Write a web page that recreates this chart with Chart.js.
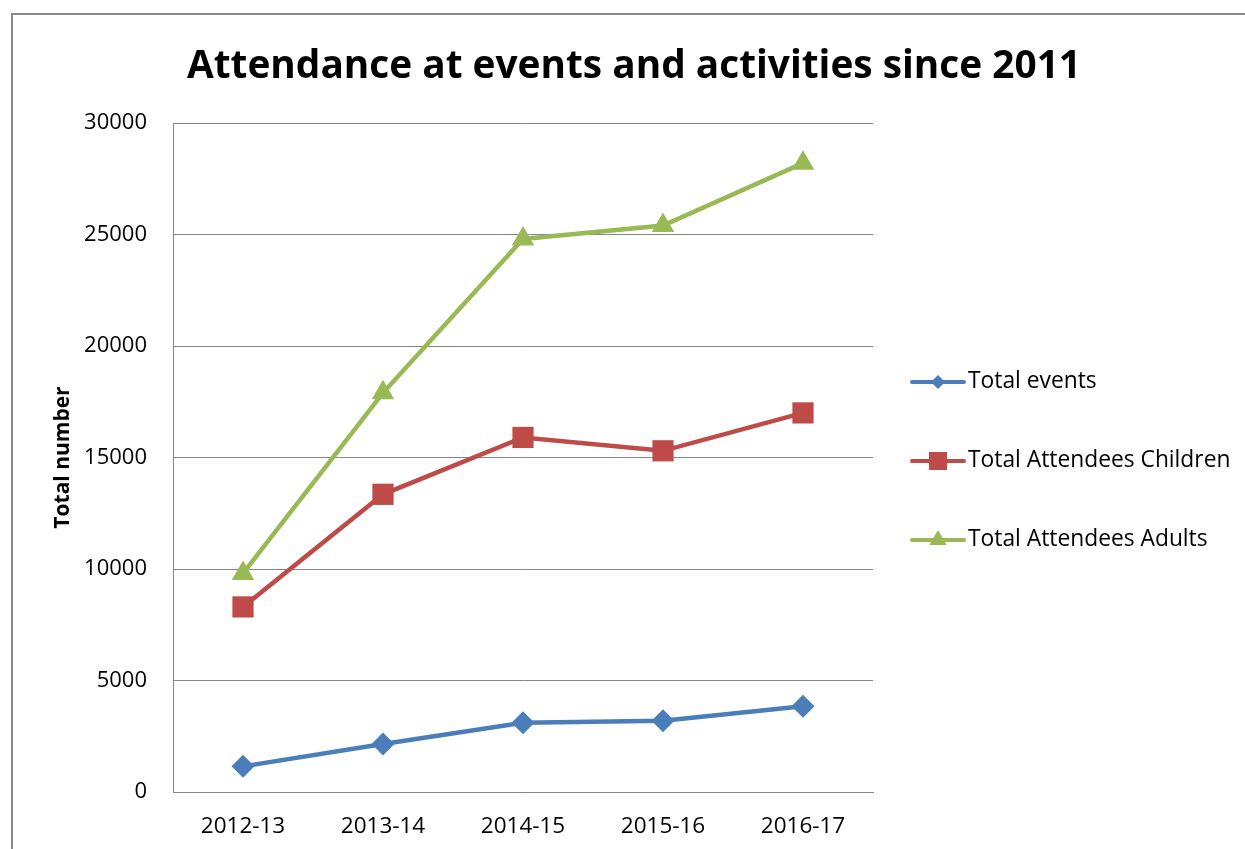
<!DOCTYPE html>
<html>
<head>
<meta charset="utf-8">
<title>Attendance at events and activities since 2011</title>
<script src="https://cdn.jsdelivr.net/npm/chart.js@4/dist/chart.umd.min.js"></script>
<style>
  html, body { margin: 0; padding: 0; background: #fff; }
  #wrap { width: 1245px; height: 849px; }
</style>
</head>
<body>
<div id="wrap"><canvas id="attendance-chart" width="1245" height="849"></canvas></div>
<script>
// ------------------------------------------------------
// DATA
// ------------------------------------------------------
const years = ["2012-13", "2013-14", "2014-15", "2015-16", "2016-17"];
const totalEvents = [1150, 2150, 3100, 3200, 3850];
const attendeesChildren = [8300, 13350, 15900, 15300, 17000];
const attendeesAdults = [9800, 17900, 24800, 25400, 28200];
const yTicks = [0, 5000, 10000, 15000, 20000, 25000, 30000];

const seriesNames = ["Total events", "Total Attendees Children", "Total Attendees Adults"];
const seriesColors = ["#4A7EBB", "#BE4B48", "#98B954"];

const FONT = "'Open Sans', 'Liberation Sans', sans-serif";

// ------------------------------------------------------
// PLUGINS
// ------------------------------------------------------
// outer frame + title
const framePlugin = {
  id: "frame",
  beforeDraw(chart) {
    const ctx = chart.ctx;
    ctx.save();
    ctx.fillStyle = "#fff";
    ctx.fillRect(0, 0, chart.width, chart.height);
    ctx.strokeStyle = "#898989";
    ctx.lineWidth = 2;
    ctx.beginPath();
    ctx.moveTo(12, chart.height);
    ctx.lineTo(12, 14);
    ctx.lineTo(chart.width, 14);
    ctx.stroke();

    ctx.fillStyle = "#000";
    ctx.font = "bold 38.8px " + FONT;
    ctx.textAlign = "center";
    ctx.textBaseline = "alphabetic";
    ctx.fillText("Attendance at events and activities since 2011", 634, 78);
    ctx.restore();
  },
};

// legend on the right, line + marker like the original
function drawMarker(ctx, style, x, y, color) {
  ctx.fillStyle = color;
  ctx.beginPath();
  if (style === "rectRot") {
    const r = 7;
    ctx.moveTo(x, y - r);
    ctx.lineTo(x + r, y);
    ctx.lineTo(x, y + r);
    ctx.lineTo(x - r, y);
  } else if (style === "rect") {
    const h = 9;
    ctx.rect(x - h, y - h, h * 2, h * 2);
  } else {
    const r = 10;
    ctx.moveTo(x, y - r);
    ctx.lineTo(x + r * 0.866, y + r / 2);
    ctx.lineTo(x - r * 0.866, y + r / 2);
  }
  ctx.closePath();
  ctx.fill();
}

const legendPlugin = {
  id: "sideLegend",
  afterDraw(chart) {
    const ctx = chart.ctx;
    ctx.save();
    chart.data.datasets.forEach(function (ds, i) {
      const y = 382 + i * 79;
      ctx.strokeStyle = ds.borderColor;
      ctx.lineWidth = 4;
      ctx.lineCap = "round";
      ctx.beginPath();
      ctx.moveTo(912, y);
      ctx.lineTo(964, y);
      ctx.stroke();
      drawMarker(ctx, ds.pointStyle, 938, y, ds.borderColor);

      ctx.fillStyle = "#000";
      ctx.font = "22.8px " + FONT;
      ctx.textAlign = "left";
      ctx.textBaseline = "middle";
      ctx.fillText(ds.label, 968, y);
    });
    ctx.restore();
  },
};

// ------------------------------------------------------
// CHART
// ------------------------------------------------------
function makeDataset(label, data, color, style, radius) {
  return {
    label: label,
    data: data,
    borderColor: color,
    backgroundColor: color,
    borderWidth: 4.5,
    pointStyle: style,
    pointRadius: radius,
    pointBorderWidth: 0,
    pointBackgroundColor: color,
    tension: 0,
  };
}

const ctx = document.getElementById("attendance-chart").getContext("2d");

new Chart(ctx, {
  type: "line",
  data: {
    labels: years,
    datasets: [
      makeDataset(seriesNames[0], totalEvents, seriesColors[0], "rectRot", 11.5),
      makeDataset(seriesNames[1], attendeesChildren, seriesColors[1], "rect", 15),
      makeDataset(seriesNames[2], attendeesAdults, seriesColors[2], "triangle", 13),
    ],
  },
  options: {
    responsive: false,
    animation: false,
    devicePixelRatio: 1,
    layout: {
      padding: { left: 0, top: 123, right: 372, bottom: 0 },
    },
    plugins: {
      legend: { display: false },
      title: { display: false },
      tooltip: { enabled: false },
    },
    scales: {
      x: {
        offset: true,
        grid: { display: false, drawTicks: false },
        border: { display: true, color: "#868686", width: 1 },
        ticks: {
          color: "#000",
          padding: 21,
          font: { family: FONT, size: 22.5 },
          maxRotation: 0,
        },
        afterFit: function (scale) {
          scale.height = 57;
        },
      },
      y: {
        min: 0,
        max: 30000,
        afterBuildTicks: function (scale) {
          scale.ticks = yTicks.map(function (v) { return { value: v }; });
        },
        grid: { color: "#868686", lineWidth: 1, drawTicks: false },
        border: { display: true, color: "#868686", width: 1 },
        ticks: {
          color: "#000",
          padding: 26,
          font: { family: FONT, size: 22 },
          callback: function (v) { return String(v); },
        },
        title: {
          display: true,
          text: "Total number",
          color: "#000",
          font: { family: FONT, size: 21, weight: "bold" },
          padding: { top: 50, bottom: 0 },
        },
        afterFit: function (scale) {
          scale.width = 173;
        },
      },
    },
  },
  plugins: [framePlugin, legendPlugin],
});
</script>
</body>
</html>
